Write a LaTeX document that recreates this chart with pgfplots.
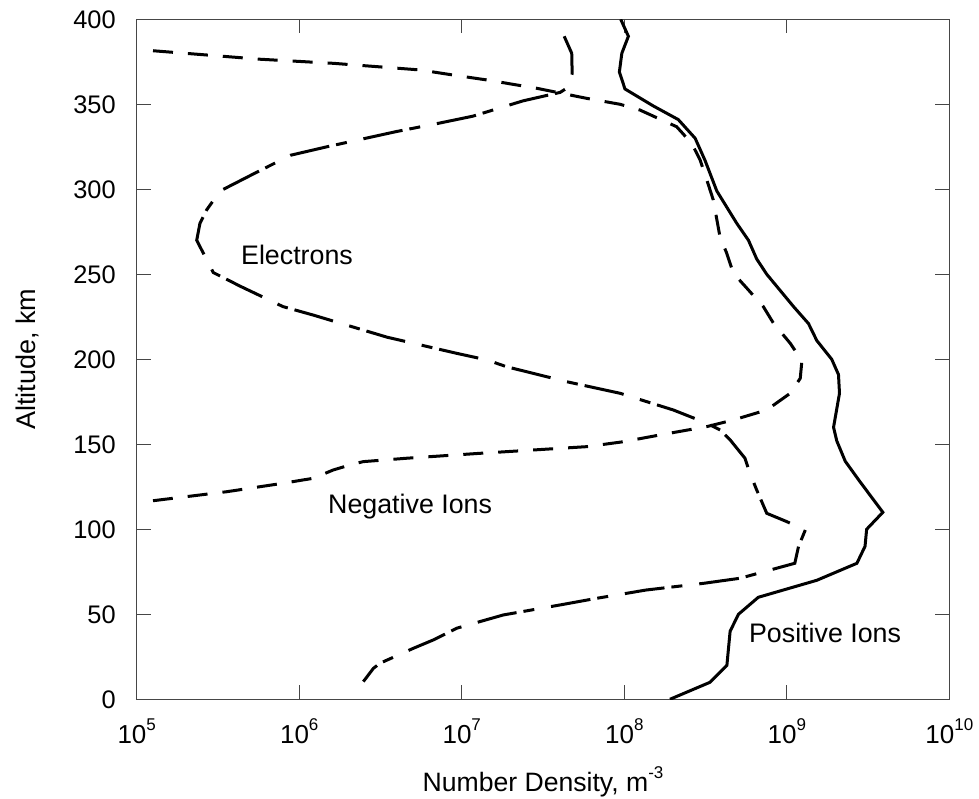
\documentclass[border=0pt]{standalone}
\usepackage{pgfplots}
\pgfplotsset{compat=1.18}
\usepackage{fontspec}
\setmainfont{Liberation Sans}
\usetikzlibrary{calc}

% tick label 10^n in the text font
\newcommand{\tp}[1]{10\raisebox{0.5em}{\fontsize{8.5}{9}\selectfont #1}}

\begin{document}
\begin{tikzpicture}
\begin{axis}[
    scale only axis,
    width=406.3pt, height=340pt,
    xmode=log,
    xmin=1e5, xmax=1e10,
    ymin=0, ymax=400,
    xtick={1e5,1e6,1e7,1e8,1e9,1e10},
    xticklabels={\tp{5},\tp{6},\tp{7},\tp{8},\tp{9},\tp{10}},
    ytick={0,50,...,400},
    xminorticks=false,
    /pgf/number format/assume math mode=true,
    tick align=inside,
    major tick length=7pt,
    tick style={gray!55!black, line width=0.6pt},
    axis line style={gray!55!black, line width=0.6pt},
    yticklabel style={font=\fontsize{12.7}{14}\selectfont, xshift=-7pt},
    xticklabel style={font=\fontsize{13}{15}\selectfont, yshift=-6pt},
    xlabel={Number Density, m\raisebox{0.5em}{\fontsize{8.5}{9}\selectfont -3}},
    ylabel={Altitude, km},
    xlabel style={font=\fontsize{13.3}{15}\selectfont, at={([yshift=-46.2pt]axis description cs:0.5,0)}, anchor=base},
    ylabel style={font=\fontsize{13.5}{15}\selectfont, at={([xshift=-50.8pt]axis description cs:0,0.5)}, anchor=base},
]

% Positive ions
\addplot[black, line width=1.5pt] coordinates {
    (1.91e8,0) (3.37e8,10) (4.28e8,20) (4.48e8,40) (5.04e8,50)
    (6.68e8,60) (1.53e9,70) (2.70e9,80) (3.03e9,90) (3.10e9,100)
    (3.90e9,110) (2.82e9,128) (2.29e9,140) (2.03e9,152) (1.94e9,160)
    (2.11e9,180) (2.08e9,191) (1.89e9,200) (1.53e9,211) (1.36e9,221)
    (1.10e9,231) (7.53e8,250) (6.53e8,259) (5.81e8,270) (4.92e8,280)
    (3.71e8,299) (3.14e8,317) (2.73e8,330) (2.15e8,341) (1.51e8,349)
    (1.01e8,359) (9.33e7,369) (9.66e7,380) (1.06e8,390) (9.51e7,400)
};

% Negative ions
\addplot[black, line width=1.5pt, dash pattern=on 10pt off 7.5pt] coordinates {
    (1.26e5,381.5) (5.74e5,376.5) (1.62e6,374.1) (5.53e6,370.2) (8.87e6,367.2)
    (1.43e7,364.3) (2.90e7,359.4) (5.87e7,353.5) (9.42e7,350) (1.25e8,346.6)
    (1.61e8,341.8) (2.10e8,336.8) (2.60e8,327) (2.93e8,317.2) (3.22e8,305.5)
    (3.53e8,293.7) (3.88e8,272.1) (4.27e8,262.4) (4.69e8,250.6) (5.68e8,241.8)
    (7.18e8,230.9) (8.28e8,221.2) (1.05e9,209.4) (1.21e9,200.6) (1.24e9,199.6)
    (1.21e9,188.8) (1.05e9,180) (7.53e8,170.2) (4.69e8,164.3) (3.22e8,160.4)
    (1.66e8,155.5) (9.86e7,151.5) (5.87e7,148.6) (1.30e7,144.7) (4.59e6,141.8)
    (2.48e6,139.8) (2.15e6,138.4) (1.62e6,134.9) (1.22e6,130) (7.98e5,127.1)
    (3.58e5,122.1) (1.26e5,116.8)
};

% Electrons
\addplot[black, line width=1.5pt, dash pattern=on 20pt off 8.5pt on 5.5pt off 3.5pt] coordinates {
    (4.27e7,390) (4.75e7,380) (4.78e7,368) (4.52e7,360) (4.03e7,357)
    (2.38e7,352) (1.17e7,343) (7.35e6,339) (3.98e6,334) (1.48e6,325)
    (8.83e5,320) (5.47e5,310) (3.26e5,299) (2.70e5,288) (2.45e5,280)
    (2.34e5,270) (2.96e5,251) (3.26e5,249) (4.33e5,243) (7.94e5,231)
    (1.22e6,226) (2.14e6,219) (3.47e6,213) (9.31e6,203.5) (1.43e7,199.6)
    (1.89e7,195.6) (4.43e7,186.8) (9.42e7,180) (2.00e8,170.2) (3.22e8,162.4)
    (3.89e8,158.4) (4.48e8,152.6) (5.53e8,141.8) (5.94e8,132.9) (6.53e8,123.1)
    (7.53e8,109.4) (1.00e9,104.5) (1.30e9,99.6) (1.18e9,89.8) (1.12e9,80)
    (8.67e8,77.1) (5.16e8,71.2) (3.07e8,68.2) (1.37e8,64.3) (6.76e7,59.4)
    (4.03e7,55.5) (1.80e7,49.6) (9.31e6,41.8) (6.68e6,34.9) (5.04e6,30)
    (3.14e6,21.2) (2.86e6,18.2) (2.48e6,10.4)
};

\node[anchor=base, font=\fontsize{13.4}{15}\selectfont] at (axis cs:9.69e5,255.9) {Electrons};
\node[anchor=base, font=\fontsize{13.4}{15}\selectfont] at (axis cs:4.81e6,109.4) {Negative Ions};
\node[anchor=base, font=\fontsize{13.4}{15}\selectfont] at (axis cs:1.72e9,33.5) {Positive Ions};

\end{axis}
\pgfresetboundingbox
\path[use as bounding box] ($(current axis.south west)+(-68.35pt,-49.85pt)$) rectangle ($(current axis.north east)+(14.85pt,9.65pt)$);
\end{tikzpicture}
\end{document}
